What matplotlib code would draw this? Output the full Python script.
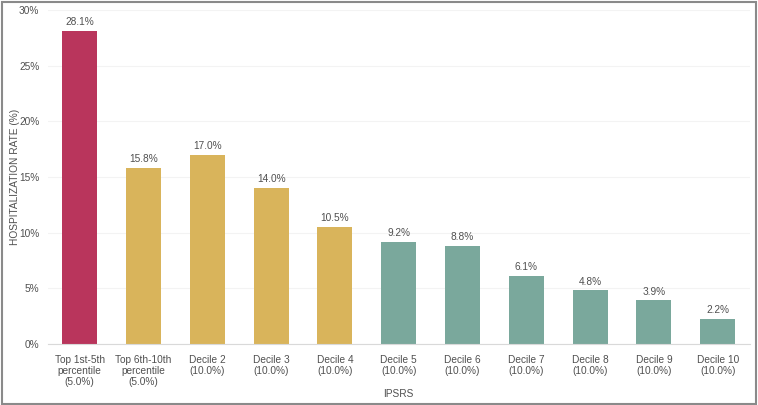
import matplotlib
matplotlib.use("Agg")
import matplotlib.pyplot as plt
from matplotlib.patches import Rectangle

categories = ["Top 1st-5th\npercentile\n(5.0%)", "Top 6th-10th\npercentile\n(5.0%)",
              "Decile 2\n(10.0%)", "Decile 3\n(10.0%)", "Decile 4\n(10.0%)",
              "Decile 5\n(10.0%)", "Decile 6\n(10.0%)", "Decile 7\n(10.0%)",
              "Decile 8\n(10.0%)", "Decile 9\n(10.0%)", "Decile 10\n(10.0%)"]
values = [28.1, 15.8, 17.0, 14.0, 10.5, 9.2, 8.8, 6.1, 4.8, 3.9, 2.2]
groups = ["top", "mid", "mid", "mid", "mid", "low", "low", "low", "low", "low", "low"]
group_colors = {"top": "#B9355C", "mid": "#D9B45B", "low": "#7AA89C"}
yticks = [0, 5, 10, 15, 20, 25, 30]

plt.rcParams['font.family'] = ['Liberation Sans', 'DejaVu Sans']
txt = "#505050"
fs = 7.3

fig = plt.figure(figsize=(7.58, 4.05), dpi=100)
ax = fig.add_axes([0.063, 0.151, 0.926, 0.824])
x = list(range(len(values)))
ax.bar(x, values, width=0.55, color=[group_colors[g] for g in groups], zorder=2)
for xi, v in zip(x, values):
    ax.text(xi, v + 0.35, f"{v:.1f}%", ha="center", va="bottom", fontsize=fs, color=txt)

ax.set_xlim(-0.5, len(values) - 0.5)
ax.set_ylim(0, 30)
ax.set_yticks(yticks)
ax.set_yticklabels([f"{t}%" for t in yticks], fontsize=fs, color=txt)
ax.set_xticks(x)
ax.set_xticklabels(categories, fontsize=fs, color=txt, linespacing=1.1)
ax.tick_params(axis="y", length=0, pad=6)
ax.tick_params(axis="x", length=0, pad=8)
ax.yaxis.grid(True, color="#f3f3f3", linewidth=0.8, zorder=0)
ax.set_axisbelow(True)
for s in ["top", "right", "left"]:
    ax.spines[s].set_visible(False)
ax.spines["bottom"].set_color("#d9d9d9")
ax.set_xlabel("IPSRS", fontsize=fs, color=txt)
ax.xaxis.set_label_coords(0.5, -0.135)
ax.set_ylabel("HOSPITALIZATION RATE (%)", fontsize=fs, color=txt)
ax.yaxis.set_label_coords(-0.04, 0.5)

fig.patches.append(Rectangle((0.002, 0.003), 0.995, 0.993, transform=fig.transFigure,
                             fill=False, edgecolor="#8a8a8a", linewidth=1.5))
fig.savefig("out.png", dpi=100)
